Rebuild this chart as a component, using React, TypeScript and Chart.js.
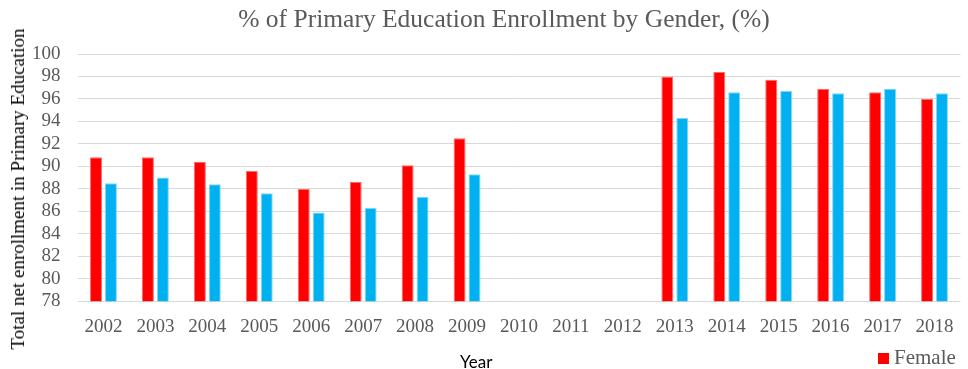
import React, { useEffect, useRef } from "react";
import { Chart, registerables } from "chart.js";

Chart.register(...registerables);

const years = ["2002","2003","2004","2005","2006","2007","2008","2009","2010","2011","2012","2013","2014","2015","2016","2017","2018"];
const female = [90.8, 90.8, 90.4, 89.6, 88.0, 88.6, 90.1, 92.5, null, null, null, 98.0, 98.4, 97.7, 96.9, 96.6, 96.0];
const male = [88.5, 89.0, 88.4, 87.6, 85.9, 86.3, 87.3, 89.3, null, null, null, 94.3, 96.6, 96.7, 96.5, 96.9, 96.5];
const titleText = "% of Primary Education Enrollment by Gender, (%)";
const yTitle = "Total net enrollment in Primary Education";
const xTitle = "Year";
const legendLabel = "Female";
const femaleColor = "#FF0000";
const maleColor = "#00B0F0";

export default function App() {
  const ref = useRef<HTMLCanvasElement>(null);
  useEffect(() => {
    document.body.style.margin = "0";
    const serif = "'Liberation Serif', 'Times New Roman', serif";
    const chart = new Chart(ref.current!, {
      type: "bar",
      data: {
        labels: years,
        datasets: [
          { label: "Female", data: female, backgroundColor: femaleColor, borderColor: "#FF6B6B", borderWidth: 1, categoryPercentage: 0.575, barPercentage: 0.8 },
          { label: "Male", data: male, backgroundColor: maleColor, borderColor: "#7FD7F7", borderWidth: 1, categoryPercentage: 0.575, barPercentage: 0.8 },
        ],
      },
      options: {
        animation: false,
        responsive: false,
        maintainAspectRatio: false,
        layout: { padding: { left: 15, right: -9, top: 54, bottom: 16 } },
        plugins: {
          title: { display: false },
          legend: { display: false },
          tooltip: { enabled: false },
        },
        scales: {
          x: {
            grid: { display: false, drawTicks: false },
            border: { display: false },
            ticks: { color: "#595959", font: { family: serif, size: 19 }, padding: 14.5, maxRotation: 0, autoSkip: false },
          },
          y: {
            min: 78,
            max: 100,
            grid: { color: "#D9D9D9", lineWidth: 1, drawTicks: false },
            border: { display: false },
            ticks: { stepSize: 2, autoSkip: false, color: "#595959", font: { family: serif, size: 19 }, padding: 17 },
          },
        },
      },
    });
    return () => chart.destroy();
  }, []);
  const serifCss = "'Liberation Serif', 'Times New Roman', serif";
  return (
    <div style={{ position: "absolute", left: 0, top: 0, width: 968, height: 369, background: "#fff", overflow: "hidden" }}>
      <canvas ref={ref} width={968} height={369} style={{ width: 968, height: 369 }} />
      <div style={{ position: "absolute", left: 504, top: 6, transform: "translateX(-50%)", whiteSpace: "nowrap", lineHeight: "26px", fontFamily: serifCss, fontSize: 25.5, color: "#595959" }}>{titleText}</div>
      <div style={{ position: "absolute", left: 18, top: 189, transform: "translate(-50%, -50%) rotate(-90deg)", whiteSpace: "nowrap", lineHeight: "22px", fontFamily: serifCss, fontSize: 19, color: "#000" }}>{yTitle}</div>
      <div style={{ position: "absolute", left: 460, top: 353, lineHeight: "17px", fontFamily: "Lato, 'Open Sans', sans-serif", fontSize: 17, color: "#000" }}>{xTitle}</div>
      <div style={{ position: "absolute", left: 878, top: 353, width: 11, height: 11, background: femaleColor }} />
      <div style={{ position: "absolute", left: 894, top: 347, lineHeight: "21px", fontFamily: serifCss, fontSize: 21, color: "#595959", whiteSpace: "nowrap" }}>{legendLabel}</div>
    </div>
  );
}
